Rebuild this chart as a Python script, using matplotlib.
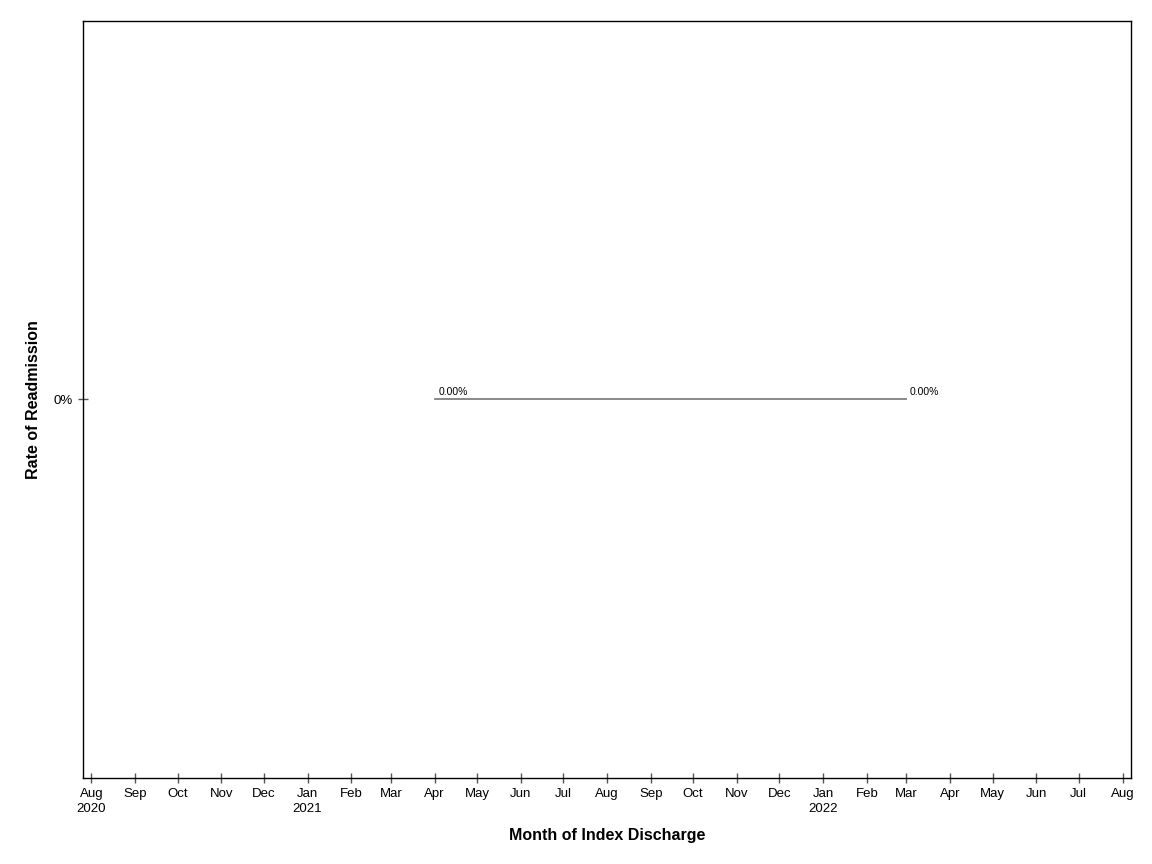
import matplotlib
matplotlib.use("Agg")
import matplotlib.pyplot as plt
import matplotlib.dates as mdates
import datetime as dt

plt.rcParams['font.family'] = ['Liberation Sans', 'DejaVu Sans']

# Data
months = ["2021-04-01", "2022-03-01"]
rates = [0.0, 0.0]
point_labels = ["0.00%", "0.00%"]

tick_months = ["2020-08-01", "2020-09-01", "2020-10-01", "2020-11-01", "2020-12-01",
               "2021-01-01", "2021-02-01", "2021-03-01", "2021-04-01", "2021-05-01",
               "2021-06-01", "2021-07-01", "2021-08-01", "2021-09-01", "2021-10-01",
               "2021-11-01", "2021-12-01", "2022-01-01", "2022-02-01", "2022-03-01",
               "2022-04-01", "2022-05-01", "2022-06-01", "2022-07-01", "2022-08-01"]
tick_labels = ["Aug\n2020", "Sep", "Oct", "Nov", "Dec", "Jan\n2021", "Feb", "Mar", "Apr",
               "May", "Jun", "Jul", "Aug", "Sep", "Oct", "Nov", "Dec", "Jan\n2022", "Feb",
               "Mar", "Apr", "May", "Jun", "Jul", "Aug"]
y_ticks = [0.0]
y_tick_labels = ["0%"]

to_date = lambda s: dt.datetime.strptime(s, "%Y-%m-%d")
x = [to_date(m) for m in months]
xt = [to_date(m) for m in tick_months]

fig = plt.figure(figsize=(11.52, 8.64), dpi=100)
ax = fig.add_axes([83/1152, 1 - 778/864, (1131-83)/1152, (778-21)/864])

ax.plot(x, rates, color='#808080', linewidth=1.3)
for xi, yi, lab in zip(x, rates, point_labels):
    ax.annotate(lab, (mdates.date2num(xi), yi), xytext=(2.5, 1.8), textcoords='offset points',
                fontsize=7.5, ha='left', va='bottom', color='black')

ax.set_xlim(to_date("2020-07-26"), to_date("2022-08-07"))
ax.set_ylim(-1, 1)
ax.set_xticks(xt)
ax.set_xticklabels(tick_labels, fontsize=9.5, linespacing=1.3)
ax.set_yticks(y_ticks)
ax.set_yticklabels(y_tick_labels, fontsize=9.5)
ax.tick_params(axis='both', direction='inout', length=7, width=1, color='#555555', pad=4)

for s in ax.spines.values():
    s.set_linewidth(1)
    s.set_color('black')

ax.set_xlabel("Month of Index Discharge", fontsize=11.5, fontweight='bold', labelpad=9)
ax.set_ylabel("Rate of Readmission", fontsize=11.5, fontweight='bold', labelpad=9)

fig.savefig("out.png", dpi=100)
